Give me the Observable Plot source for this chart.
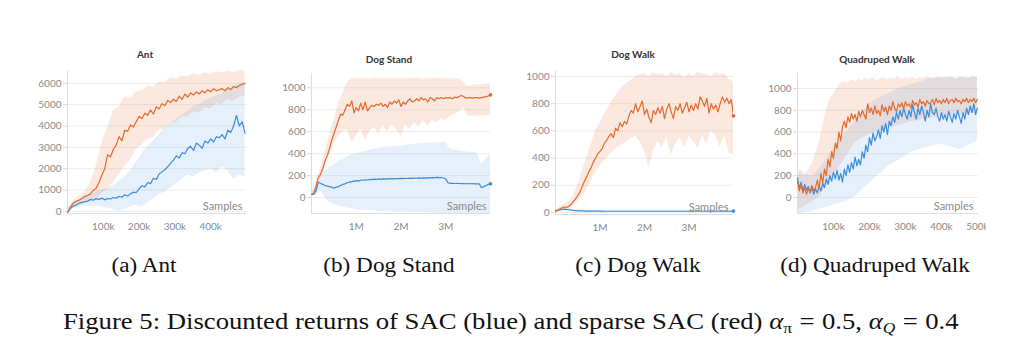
<!DOCTYPE html>
<html><head><meta charset="utf-8">
<script src="https://cdn.jsdelivr.net/npm/d3@7"></script>
<script src="https://cdn.jsdelivr.net/npm/@observablehq/plot@0.6"></script>
<style>
body{margin:0;background:#fff;}
#root{position:relative;width:1025px;height:356px;overflow:hidden;background:#fff;}
#root svg{position:absolute;overflow:hidden;background:transparent;}
#root g[aria-label="y-axis tick"]{stroke:#dcdcdc;}
#root g[aria-label="x-axis tick"]{stroke:#dcdcdc;}
#root g[aria-label="y-axis tick label"], #root g[aria-label="x-axis tick label"]{fill:#8a8a8a;}
.ttl{position:absolute;font:bold 10px Lato,sans-serif;color:#333;transform:translate(-50%,-50%);white-space:nowrap;}
.sub{position:absolute;font:20px/20px "Liberation Serif",serif;color:#111;white-space:nowrap;transform:translateX(-50%) scaleX(1.16);}
.cap{position:absolute;font:23px/23px "Liberation Serif",serif;color:#111;white-space:nowrap;transform-origin:0 0;transform:scaleX(1.16);}
.cap sub{font-size:15px;line-height:0;vertical-align:-4px;}
.cap .eq{padding:0 0.28em;}
</style></head>
<body><div id="root"></div>
<script>
// ---------- (a) Ant : x in thousands of samples ----------
const antX = d3.range(0, 497, 8);          // sample positions (k)
const antBandX = d3.range(0, 497, 16);     // band sample positions (k)
const antRed = [-80,200,380,470,520,600,700,740,820,980,
  1080,1350,1700,2000,2650,2550,2900,3100,3500,3300,
  3800,3750,4050,3950,4200,4450,4350,4600,4500,4750,
  4550,4900,4800,5050,4950,5200,5100,5250,5150,5400,
  5250,5500,5350,5550,5450,5600,5500,5650,5550,5700,
  5600,5750,5650,5700,5750,5650,5800,5700,5850,5800,
  5900,5950,6000];
const antBlue = [-50,150,250,300,380,420,450,480,560,520,
  600,560,620,540,600,580,650,620,700,660,
  780,720,820,900,880,1050,1200,1150,1350,1300,
  1550,1500,1750,1850,1950,2100,2250,2400,2600,2500,
  2750,2700,2950,3050,2850,3200,3100,2950,3300,3200,
  3400,3250,3500,3450,3600,3400,3800,3700,4000,4500,
  4000,4200,3650];
const antRedLo = [-100,150,250,330,470,580,820,1050,1350,1700,2100,2400,2900,3100,3400,3450,3800,3850,4100,4150,4450,4400,4650,4600,4850,4800,5050,5000,5250,5150,5350,5400];
const antRedHi = [50,500,700,900,1350,2100,3200,3900,4700,4900,5350,5300,5600,5650,5850,5850,6050,6050,6250,6200,6350,6300,6450,6380,6500,6420,6550,6480,6560,6500,6600,6600];
const antBlueLo = [-100,100,200,250,250,250,200,150,100,0,100,200,300,200,400,600,800,900,1100,1300,1500,1700,1600,1800,1900,2000,1800,2100,1900,1500,1700,1600];
const antBlueHi = [50,400,550,700,800,900,1000,1100,1200,1400,1600,1900,2300,2700,3000,3300,3600,3900,4100,4300,4500,4700,4900,5000,5200,5300,5400,5500,5700,5800,6000,6000];

// ---------- (b) Dog Stand : x in millions ----------
const dogX = d3.range(81).map(i => i * 0.05);      // line sample positions (M)
const dogBandX = d3.range(41).map(i => i * 0.1);   // band sample positions (M)
const standRed = [30,40,100,180,210,260,330,380,440,520,
  580,640,700,760,750,800,850,830,880,770,
  820,790,860,800,870,790,820,840,830,850,
  840,860,830,850,820,870,850,880,860,890,
  830,870,850,880,900,870,880,900,880,910,
  890,900,870,910,900,880,910,900,910,900,
  910,905,910,900,915,910,920,930,920,905,
  910,910,905,910,910,905,910,915,920,925,935];
const standBlue = [30,30,60,140,130,120,110,105,100,95,
  85,95,100,110,120,125,135,140,145,150,
  155,150,160,158,162,160,165,163,168,165,
  170,166,170,168,172,170,172,170,174,172,
  175,172,176,174,177,175,178,176,180,177,
  180,178,181,179,182,180,184,181,183,178,
  170,135,130,130,128,130,128,127,128,126,
  127,126,127,125,126,125,90,100,110,120,125];
const standRedLo = [20,80,170,280,380,480,560,600,620,500,560,620,520,600,640,580,650,600,660,620,560,660,620,680,640,700,650,700,680,720,700,740,760,780,820,740,740,740,740,745,750];
const standRedHi = [40,150,260,400,560,700,850,950,1050,1080,1090,1085,1090,1080,1090,1085,1090,1080,1090,1085,1090,1085,1090,1085,1090,1080,1090,1085,1090,1085,1090,1080,1085,1080,1050,1010,1020,1025,1030,1035,1040];
const standBlueLo = [20,20,60,0,-40,-60,-75,-85,-95,-100,-108,-112,-115,-118,-122,-125,-127,-129,-131,-133,-135,-136,-137,-138,-139,-140,-141,-142,-143,-144,-145,-146,-147,-148,-148,-149,-149,-150,-150,-150,-150];
const standBlueHi = [40,100,200,240,270,300,330,350,370,390,400,410,420,430,440,448,455,460,465,468,470,475,480,485,490,492,495,498,500,500,500,440,430,425,420,415,410,405,300,350,400];

// ---------- (c) Dog Walk : x in millions ----------
const walkRed = [10,15,25,35,40,38,45,60,80,100,
  125,150,190,230,260,300,330,370,400,430,
  450,470,510,530,560,580,550,620,600,660,
  630,670,650,710,750,730,800,740,780,820,
  720,760,700,660,750,720,770,730,780,690,
  760,800,740,690,780,750,800,730,770,810,
  740,790,750,800,760,850,820,780,840,730,
  800,760,790,740,800,850,810,840,800,830,710];
const walkRedLo = [5,15,25,30,50,80,120,170,230,290,340,380,420,450,480,500,520,540,560,520,450,330,450,520,480,560,420,500,550,480,560,520,470,560,500,600,560,480,560,440,420];
const walkRedHi = [15,40,60,80,120,200,300,400,500,600,660,720,780,830,880,920,950,970,1000,1010,1020,1000,1030,1010,1020,1000,1030,1010,1020,990,1020,1000,1030,1020,1010,1000,1030,1010,1020,980,960];
const walkBlue = [12,18,24,20,15,12,11,10,10,10,10,9,9,9,9,9,9,9,9,9,9,9,9,9,9,9,9,9,9,9,9,9,9,9,9,9,9,9,9,9,10];
const walkBlueLo = [6,10,14,12,8,6,5,4,4,4,4,3,3,3,3,3,3,3,3,3,3,3,3,3,3,3,3,3,3,3,3,3,3,3,3,3,3,3,3,3,4];
const walkBlueHi = [18,28,36,32,24,20,18,17,16,16,16,15,15,15,15,15,15,15,15,15,15,15,15,15,15,15,15,15,15,15,15,15,15,15,15,15,15,15,15,15,16];

// ---------- (d) Quadruped Walk : x in thousands ----------
const quadX = d3.range(0, 501, 5);
const quadBandX = d3.range(0, 501, 10);
const quadRed = [150,60,120,40,90,30,80,50,110,60,
  90,160,80,220,130,260,200,350,280,420,
  360,500,450,600,520,650,700,640,740,690,
  770,720,760,700,790,740,800,760,720,860,
  780,820,760,840,770,800,750,850,790,830,
  760,840,800,880,820,790,860,830,870,810,
  880,840,860,820,890,850,870,830,900,860,
  880,840,890,860,870,900,850,910,870,890,
  860,900,870,910,860,890,900,870,910,880,
  890,860,900,880,910,870,900,880,910,870,900];
const quadBlue = [180,80,140,60,120,70,100,40,90,30,
  80,40,110,60,130,90,170,120,200,150,
  230,170,250,160,220,140,260,200,300,230,
  320,260,370,290,350,300,420,360,480,420,
  550,480,590,520,560,620,540,660,600,680,
  580,700,660,740,690,780,720,800,740,820,
  760,720,800,740,850,780,720,820,760,840,
  780,700,800,740,860,780,760,820,740,700,
  780,720,760,700,790,740,690,770,720,800,
  740,680,780,720,820,760,840,780,860,760,820];
const quadRedHi = [200,220,200,250,300,400,500,650,800,900,950,1000,1050,1060,1050,1080,1060,1090,1070,1100,1080,1100,1070,1090,1100,1080,1100,1090,1110,1080,1100,1090,1110,1080,1100,1090,1110,1100,1090,1110,1100,1090,1110,1100,1080,1100,1110,1090,1100,1110,1100];
const quadRedLo = [-100,-100,-80,-60,-40,-20,0,50,100,150,200,250,300,350,400,450,500,520,550,560,580,590,600,610,620,630,640,650,660,670,680,690,700,700,710,720,720,730,730,740,740,740,750,750,750,760,760,760,770,770,770];
const quadBlueHi = [250,250,220,200,200,220,260,300,350,400,450,500,540,580,620,660,700,740,780,820,860,880,900,920,940,950,960,980,1000,1010,1020,1030,1040,1050,1060,1070,1080,1090,1100,1100,1100,1110,1100,1110,1100,1110,1100,1110,1100,1110,1100];
const quadBlueLo = [-150,-150,-140,-140,-130,-120,-110,-100,-90,-80,-70,-60,-50,-40,-30,-10,10,40,70,100,130,160,190,220,250,280,300,320,340,360,380,400,420,430,440,450,460,470,480,480,490,480,470,460,450,440,450,470,490,500,520];

// ---------- tick values & labels ----------
const antYTicks = [0,1000,2000,3000,4000,5000,6000];
const antXTicks = [100,200,300,400];
const dogYTicks = [0,200,400,600,800,1000];
const dogXTicks = [1,2,3];
const quadXTicks = [100,200,300,400,500];
const titles = ["Ant","Dog Stand","Dog Walk","Quadruped Walk"];
const subcaptions = ["(a) Ant","(b) Dog Stand","(c) Dog Walk","(d) Quadruped Walk"];

const RED = "#e3692c", BLUE = "#3a8ddc";
const line = (xs, ys) => xs.map((x, i) => ({x, y: ys[i]}));
const band = (xs, lo, hi) => xs.map((x, i) => ({x, lo: lo[i], hi: hi[i]}));

const root = document.getElementById("root");

function panel(c) {
  const marks = [
    Plot.gridY(c.yTicks, {stroke: "#ededed", strokeOpacity: 1}),
    ...c.bands.map(b => Plot.areaY(b.data, {x: "x", y1: "lo", y2: "hi", fill: b.color, fillOpacity: b.op, clip: true})),
    Plot.ruleX([c.xDomain[0]], {stroke: "#dedede"}),
    Plot.ruleY([c.yDomain[0]], {stroke: "#dedede"}),
    ...c.lines.map(l => Plot.lineY(l.data, {x: "x", y: "y", stroke: l.color, strokeWidth: 1.2, clip: true})),
    ...(c.dots ? c.lines.map(l => Plot.dot([l.data[l.data.length - 1]], {x: "x", y: "y", r: 1.8, fill: l.color, stroke: null})) : []),
    Plot.axisY(c.yTicks, {tickSize: 4, tickPadding: 2, color: "#8a8a8a", fontSize: 10, label: null, tickFormat: d => String(d)}),
    Plot.axisX(c.xTicks, {tickSize: 0, tickPadding: 9, tickFormat: c.fmt, color: "#8a8a8a", fontSize: 10, label: null}),
    Plot.text(["Samples"], {text: d => d, frameAnchor: "bottom-right", textAnchor: "end", lineAnchor: "middle", dx: c.sdx, dy: -7, fill: "#8a8a8a", fontSize: 11})
  ];
  const svg = Plot.plot({
    width: c.width, height: c.height,
    marginLeft: c.ml, marginRight: c.mr, marginTop: c.mt, marginBottom: c.mb,
    x: {domain: c.xDomain, axis: null},
    y: {domain: c.yDomain, axis: null},
    style: {fontFamily: "Lato, sans-serif", fontSize: "10px", background: "transparent", overflow: "hidden"},
    marks
  });
  svg.style.left = c.left + "px";
  svg.style.top = c.top + "px";
  root.appendChild(svg);
  const t = document.createElement("div");
  t.className = "ttl"; t.textContent = c.title;
  t.style.left = c.tx + "px"; t.style.top = c.ty + "px";
  root.appendChild(t);
  const s = document.createElement("div");
  s.className = "sub"; s.textContent = c.sub;
  s.style.left = c.sx + "px"; s.style.top = "255px";
  root.appendChild(s);
}

panel({
  left: 20, top: 60, width: 240, height: 180, ml: 47, mr: 14, mt: 10, mb: 27,
  xDomain: [0, 500], yDomain: [-100, 6600], xTicks: antXTicks, yTicks: antYTicks, fmt: d => d + "k", sdx: -4,
  bands: [{data: band(antBandX, antRedLo, antRedHi), color: RED, op: 0.15}, {data: band(antBandX, antBlueLo, antBlueHi), color: BLUE, op: 0.13}],
  lines: [{data: line(antX, antBlue), color: BLUE}, {data: line(antX, antRed), color: RED}],
  title: titles[0], tx: 145, ty: 54, sub: subcaptions[0], sx: 144
});
panel({
  left: 265, top: 63, width: 240, height: 177, ml: 46, mr: 15, mt: 10, mb: 27,
  xDomain: [0, 4], yDomain: [-145, 1130], xTicks: dogXTicks, yTicks: dogYTicks, fmt: d => d + "M", sdx: -4,
  bands: [{data: band(dogBandX, standRedLo, standRedHi), color: RED, op: 0.15}, {data: band(dogBandX, standBlueLo, standBlueHi), color: BLUE, op: 0.13}],
  lines: [{data: line(dogX, standBlue), color: BLUE}, {data: line(dogX, standRed), color: RED}], dots: true,
  title: titles[1], tx: 389, ty: 59, sub: subcaptions[1], sx: 389
});
panel({
  left: 510, top: 60, width: 240, height: 181, ml: 45, mr: 17, mt: 10, mb: 27,
  xDomain: [0, 4], yDomain: [-15, 1044], xTicks: dogXTicks, yTicks: dogYTicks, fmt: d => d + "M", sdx: -5,
  bands: [{data: band(dogBandX, walkRedLo, walkRedHi), color: RED, op: 0.15}, {data: band(dogBandX, walkBlueLo, walkBlueHi), color: BLUE, op: 0.13}],
  lines: [{data: line(dogBandX, walkBlue), color: BLUE}, {data: line(dogX, walkRed), color: RED}], dots: true,
  title: titles[2], tx: 633, ty: 54, sub: subcaptions[2], sx: 638
});
panel({
  left: 755, top: 63, width: 231, height: 177, ml: 42, mr: 8, mt: 10, mb: 27,
  xDomain: [0, 503], yDomain: [-147, 1138], xTicks: quadXTicks, yTicks: dogYTicks, fmt: d => d + "k", sdx: -5,
  bands: [{data: band(quadBandX, quadRedLo, quadRedHi), color: RED, op: 0.15}, {data: band(quadBandX, quadBlueLo, quadBlueHi), color: BLUE, op: 0.13}],
  lines: [{data: line(quadX, quadBlue), color: BLUE}, {data: line(quadX, quadRed), color: RED}],
  title: titles[3], tx: 877, ty: 59, sub: subcaptions[3], sx: 875
});

const cap = document.createElement("div");
cap.className = "cap";
cap.style.left = "63px"; cap.style.top = "310px";
cap.innerHTML = "Figure 5: Discounted returns of SAC (blue) and sparse SAC (red) <i>α</i><sub>π</sub><span class='eq'>=</span>0.5, <i>α</i><sub><i>Q</i></sub><span class='eq'>=</span>0.4";
root.appendChild(cap);
</script>
</body></html>
